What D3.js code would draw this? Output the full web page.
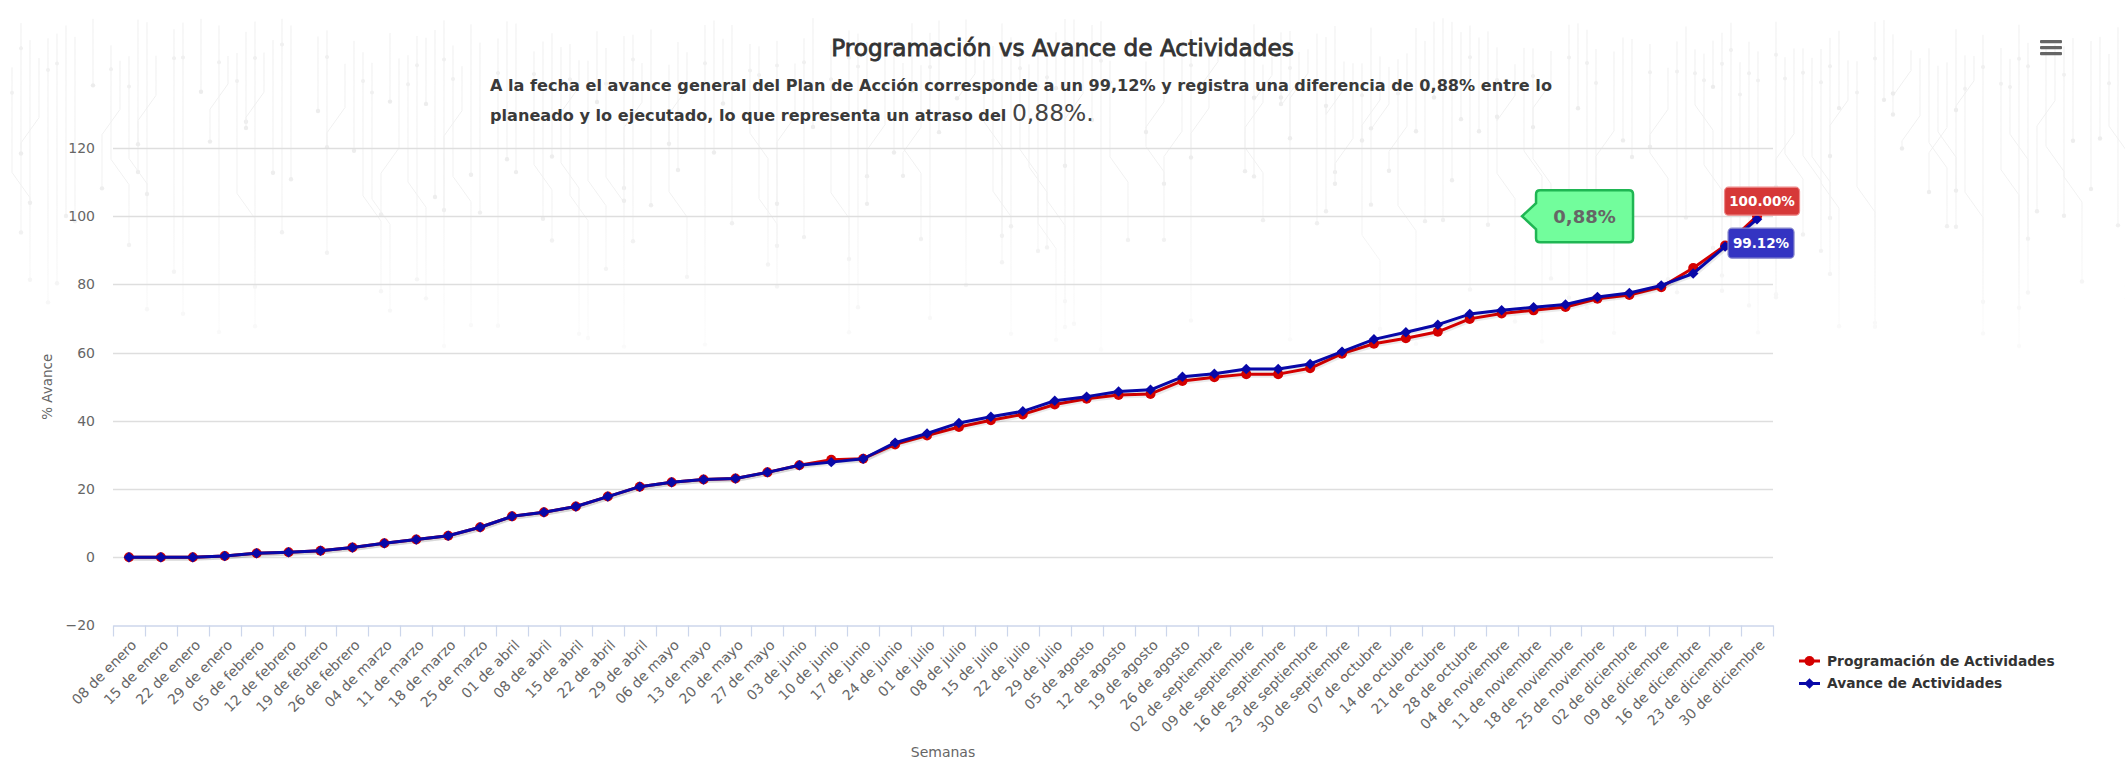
<!DOCTYPE html>
<html>
<head>
<meta charset="utf-8">
<script src="https://cdn.jsdelivr.net/npm/d3@7/dist/d3.min.js"></script>
<style>
  html, body { margin: 0; padding: 0; background: #fff; }
  svg { display: block; }
  text { font-family: "DejaVu Sans", "Noto Sans", sans-serif; }
</style>
</head>
<body>
<svg id="chart" width="2125" height="762"></svg>
<script>
const categories = [
  "08 de enero","15 de enero","22 de enero","29 de enero",
  "05 de febrero","12 de febrero","19 de febrero","26 de febrero",
  "04 de marzo","11 de marzo","18 de marzo","25 de marzo",
  "01 de abril","08 de abril","15 de abril","22 de abril","29 de abril",
  "06 de mayo","13 de mayo","20 de mayo","27 de mayo",
  "03 de junio","10 de junio","17 de junio","24 de junio",
  "01 de julio","08 de julio","15 de julio","22 de julio","29 de julio",
  "05 de agosto","12 de agosto","19 de agosto","26 de agosto",
  "02 de septiembre","09 de septiembre","16 de septiembre","23 de septiembre","30 de septiembre",
  "07 de octubre","14 de octubre","21 de octubre","28 de octubre",
  "04 de noviembre","11 de noviembre","18 de noviembre","25 de noviembre",
  "02 de diciembre","09 de diciembre","16 de diciembre","23 de diciembre","30 de diciembre"
];
const programacion = [
  0, 0, 0, 0.4, 1.2, 1.5, 1.9, 2.9, 4.1, 5.2, 6.3, 8.8, 12.0, 13.2, 14.9, 17.8,
  20.7, 22.0, 22.8, 23.1, 24.9, 27.0, 28.6, 28.9, 33.1, 35.7, 38.2, 40.2, 41.9, 44.8,
  46.5, 47.6, 47.9, 51.7, 52.8, 53.7, 53.7, 55.4, 59.7, 62.6, 64.2, 66.1, 69.9,
  71.5, 72.4, 73.4, 75.8, 76.9, 79.2, 84.8, 91.4, 100
];
const avance = [
  0, 0, 0, 0.4, 1.2, 1.5, 1.9, 2.9, 4.1, 5.2, 6.3, 8.8, 12.0, 13.2, 14.9, 17.8,
  20.7, 22.0, 22.8, 23.1, 24.9, 27.0, 27.9, 28.9, 33.6, 36.3, 39.4, 41.2, 42.8, 45.9,
  47.1, 48.6, 49.1, 52.9, 53.8, 55.2, 55.2, 56.7, 60.3, 63.9, 66.0, 68.2, 71.3,
  72.4, 73.3, 74.1, 76.3, 77.5, 79.7, 83.2, 91.1, 99.12
];
const yTicks = [-20, 0, 20, 40, 60, 80, 100, 120];
const seriesNames = ["Programación de Actividades", "Avance de Actividades"];
const titleText = "Programación vs Avance de Actividades";
const subtitleLine1 = "A la fecha el avance general del Plan de Acción corresponde a un 99,12% y registra una diferencia de 0,88% entre lo";
const subtitleLine2 = "planeado y lo ejecutado, lo que representa un atraso del ";
const subtitleBig = "0,88%.";
const diffLabel = "0,88%";
const lastLabels = ["100.00%", "99.12%"];
const xTitle = "Semanas";
const yTitle = "% Avance";

const svg = d3.select("#chart");
const W = 2125, H = 762;
const plot = { left: 113, right: 1773, top: 148, bottom: 625.5 };

// ---- Decorative circuit-board background (deterministic, faint) ----
{
  const defs = svg.append("defs");
  const grad = defs.append("linearGradient").attr("id", "fade")
    .attr("gradientUnits", "userSpaceOnUse")
    .attr("x1", 0).attr("y1", 0).attr("x2", 0).attr("y2", 400);
  grad.append("stop").attr("offset", 0).attr("stop-color", "#fff").attr("stop-opacity", 1);
  grad.append("stop").attr("offset", 0.5).attr("stop-color", "#fff").attr("stop-opacity", 0.85);
  grad.append("stop").attr("offset", 1).attr("stop-color", "#fff").attr("stop-opacity", 0);
  defs.append("mask").attr("id", "fadeMask")
    .append("rect").attr("x", 0).attr("y", 0).attr("width", W).attr("height", 420)
    .attr("fill", "url(#fade)");
  const bg = svg.append("g").attr("mask", "url(#fadeMask)")
    .attr("stroke", "#efefef").attr("fill", "none").attr("stroke-width", 1);
  const hash = k => { const s = Math.sin(k * 12.9898 + 78.233) * 43758.5453; return s - Math.floor(s); };
  const step = 9;
  for (let k = 0; k * step < W; k++) {
    const h1 = hash(k), h2 = hash(k + 1000), h3 = hash(k + 2000);
    if (h3 < 0.15) continue;
    const x0 = k * step + 3;
    const y0 = 18 + h2 * 50;
    const y1 = 80 + h1 * 270;
    const bend = h2 > 0.5 ? (h1 > 0.5 ? step * 2 : -step * 2) : 0;
    const yb = y0 + (y1 - y0) * (0.2 + 0.45 * h3);
    const pts = bend ? [[x0, y0], [x0, yb], [x0 + bend, yb + Math.abs(bend) * 1.4], [x0 + bend, y1]] : [[x0, y0], [x0, y1]];
    bg.append("path").attr("d", d3.line()(pts));
    bg.append("circle").attr("cx", pts[pts.length - 1][0]).attr("cy", y1).attr("r", 2.2)
      .attr("fill", "#ebebeb").attr("stroke", "none");
    if (h1 > 0.55) {
      bg.append("circle").attr("cx", x0).attr("cy", y0 + (y1 - y0) * 0.12).attr("r", 2)
        .attr("fill", "#efefef").attr("stroke", "none");
    }
  }
}

const x = d3.scaleBand().domain(categories).range([plot.left, plot.right]).padding(0);
const cx = d => x(d) + x.bandwidth() / 2;
const y = d3.scaleLinear().domain([-20, 120]).range([plot.bottom, plot.top]);

// Title
const title = svg.append("text")
  .attr("x", W / 2).attr("y", 56)
  .attr("text-anchor", "middle")
  .attr("fill", "#333").attr("font-size", 21)
  .attr("stroke", "#333").attr("stroke-width", 0.8)
  .text(titleText);
{
  const w = title.node().getComputedTextLength();
  title.attr("font-size", 21 * 463 / w);
}

// Subtitle
const sub1 = svg.append("text")
  .attr("x", 490).attr("y", 91)
  .attr("fill", "#3a3a3a").attr("font-size", 15).attr("font-weight", "bold")
  .text(subtitleLine1);
let subFs = 15;
{
  const w = sub1.node().getComputedTextLength();
  subFs = 15 * 1063 / w;
  sub1.attr("font-size", subFs);
}
const sub2 = svg.append("text")
  .attr("x", 490).attr("y", 121)
  .attr("fill", "#3a3a3a").attr("font-size", subFs).attr("font-weight", "bold");
sub2.append("tspan").text(subtitleLine2);
sub2.append("tspan").attr("font-size", subFs * 1.45).attr("font-weight", "normal").attr("fill", "#444").text(subtitleBig);

// Menu icon
const menuG = svg.append("g");
[41.5, 47.5, 53.5].forEach(yy => {
  menuG.append("rect").attr("x", 2040).attr("y", yy - 1.5).attr("width", 22).attr("height", 3.2)
    .attr("rx", 1).attr("fill", "#666");
});

// Grid lines
const grid = svg.append("g");
yTicks.filter(t => t !== -20).forEach(t => {
  grid.append("line")
    .attr("x1", plot.left).attr("x2", plot.right)
    .attr("y1", Math.round(y(t)) + 0.5).attr("y2", Math.round(y(t)) + 0.5)
    .attr("stroke", "#dedede").attr("stroke-width", 1.3);
});

// Y axis labels
const yAxis = d3.axisLeft(y).tickValues(yTicks).tickSize(0).tickPadding(0);
const yAxisG = svg.append("g").attr("transform", `translate(${95},0)`).call(yAxis);
yAxisG.select(".domain").remove();
yAxisG.selectAll("text").attr("font-size", 14).attr("fill", "#666")
  .attr("font-family", "DejaVu Sans, sans-serif");

// Y title
svg.append("text")
  .attr("transform", `translate(52,${(plot.top + plot.bottom) / 2}) rotate(-90)`)
  .attr("text-anchor", "middle")
  .attr("font-size", 13.5).attr("fill", "#666")
  .text(yTitle);

// X axis
const xAxis = d3.axisBottom(x).tickSize(0).tickPadding(0);
const xAxisG = svg.append("g").attr("transform", `translate(0,${plot.bottom})`).call(xAxis);
xAxisG.select(".domain").attr("stroke", "#ccd6eb").attr("stroke-width", 1.3);
xAxisG.selectAll(".tick text")
  .attr("font-size", 14).attr("fill", "#666")
  .attr("font-family", "DejaVu Sans, sans-serif")
  .attr("text-anchor", "end")
  .attr("transform", "translate(5,17) rotate(-45)")
  .attr("dy", "0.35em");
// boundary tick marks
const bounds = categories.map(c => x(c)).concat([plot.right]);
svg.append("g").selectAll("line").data(bounds).join("line")
  .attr("x1", d => Math.round(d) + 0.5).attr("x2", d => Math.round(d) + 0.5)
  .attr("y1", plot.bottom).attr("y2", plot.bottom + 11)
  .attr("stroke", "#ccd6eb").attr("stroke-width", 1.2);

// X title
svg.append("text")
  .attr("x", (plot.left + plot.right) / 2).attr("y", 757)
  .attr("text-anchor", "middle")
  .attr("font-size", 14).attr("fill", "#666")
  .text(xTitle);

// Series
const colors = ["#d40000", "#0808a8"];
const dataSets = [programacion, avance];
const line = d3.line().x((d, i) => cx(categories[i])).y(d => y(d));

dataSets.forEach((data, si) => {
  const g = svg.append("g");
  g.append("path").datum(data).attr("d", line)
    .attr("fill", "none").attr("stroke", "rgba(0,0,0,0.08)").attr("stroke-width", 5)
    .attr("transform", "translate(1,1)");
  g.append("path").datum(data).attr("d", line)
    .attr("fill", "none").attr("stroke", colors[si]).attr("stroke-width", 3)
    .attr("stroke-linejoin", "round");
  if (si === 0) {
    g.selectAll("circle").data(data).join("circle")
      .attr("cx", (d, i) => cx(categories[i])).attr("cy", d => y(d))
      .attr("r", 5).attr("fill", colors[si]);
  } else {
    const sym = d3.symbol().type(d3.symbolDiamond2).size(70);
    g.selectAll("path.m").data(data).join("path").attr("class", "m")
      .attr("d", sym)
      .attr("transform", (d, i) => `translate(${cx(categories[i])},${y(d)})`)
      .attr("fill", colors[si]);
  }
});

// Data labels on last points
const lastX = cx(categories[categories.length - 1]);
function dataLabel(txt, cxp, topY, w, h, fill, stroke) {
  const g = svg.append("g");
  g.append("rect").attr("x", cxp - w / 2).attr("y", topY).attr("width", w).attr("height", h)
    .attr("rx", 4).attr("fill", fill).attr("stroke", stroke).attr("stroke-width", 1.2);
  g.append("text").attr("x", cxp).attr("y", topY + h / 2).attr("dy", "0.36em")
    .attr("text-anchor", "middle").attr("fill", "#fff").attr("font-weight", "bold")
    .attr("font-size", 13.5).text(txt);
}
dataLabel(lastLabels[0], lastX + 5, y(programacion[programacion.length - 1]) - 29, 75, 28, "#d63838", "#e88");
dataLabel(lastLabels[1], lastX + 4, y(avance[avance.length - 1]) + 9, 66, 30, "#3434c2", "#88c");

// Green callout for difference
{
  const tipX = lastX - 235, tipY = y(100);
  const bx = tipX + 14, bw = 97, by = tipY - 26, bh = 52, r = 4;
  const p = d3.path();
  p.moveTo(bx + r, by);
  p.lineTo(bx + bw - r, by); p.quadraticCurveTo(bx + bw, by, bx + bw, by + r);
  p.lineTo(bx + bw, by + bh - r); p.quadraticCurveTo(bx + bw, by + bh, bx + bw - r, by + bh);
  p.lineTo(bx + r, by + bh); p.quadraticCurveTo(bx, by + bh, bx, by + bh - r);
  p.lineTo(bx, tipY + 13); p.lineTo(tipX, tipY); p.lineTo(bx, tipY - 13);
  p.lineTo(bx, by + r); p.quadraticCurveTo(bx, by, bx + r, by);
  p.closePath();
  svg.append("path").attr("d", p.toString())
    .attr("fill", "#72fd9c").attr("stroke", "#1fb653").attr("stroke-width", 2.5);
  svg.append("text").attr("x", bx + bw / 2).attr("y", tipY).attr("dy", "0.36em")
    .attr("text-anchor", "middle").attr("fill", "#666").attr("font-weight", "bold")
    .attr("font-size", 18).text(diffLabel);
}

// Legend
const legend = svg.append("g");
let legendFs = 13.5;
[0, 1].forEach(i => {
  const ly = 661 + i * 22.5;
  legend.append("line").attr("x1", 1799).attr("x2", 1820).attr("y1", ly).attr("y2", ly)
    .attr("stroke", colors[i]).attr("stroke-width", 3);
  if (i === 0) {
    legend.append("circle").attr("cx", 1809.5).attr("cy", ly).attr("r", 5).attr("fill", colors[i]);
  } else {
    legend.append("path").attr("d", d3.symbol().type(d3.symbolDiamond2).size(70))
      .attr("transform", `translate(1809.5,${ly})`).attr("fill", colors[i]);
  }
  const t = legend.append("text").attr("x", 1827).attr("y", ly).attr("dy", "0.36em")
    .attr("font-size", 13.5).attr("font-weight", "bold").attr("fill", "#333")
    .text(seriesNames[i]);
  if (i === 0) {
    const w = t.node().getComputedTextLength();
    legendFs = 13.5 * 228 / w;
  }
});
legend.selectAll("text").attr("font-size", legendFs);
</script>
</body>
</html>
